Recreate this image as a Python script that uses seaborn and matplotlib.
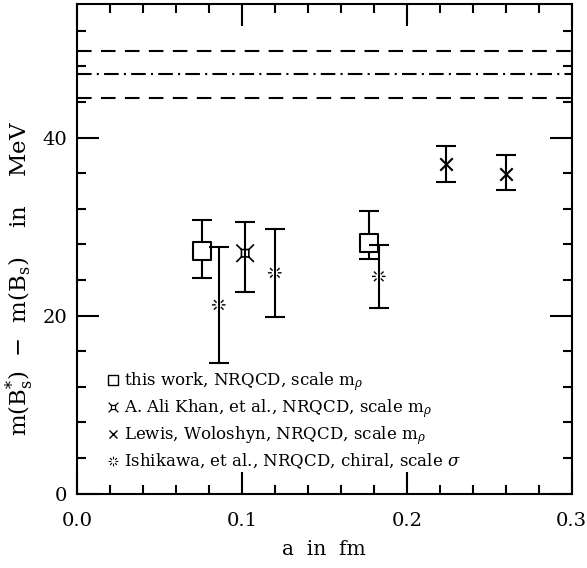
import numpy as np
import matplotlib
matplotlib.use("Agg")
import matplotlib.pyplot as plt
from matplotlib.path import Path
from matplotlib.lines import Line2D
import seaborn as sns

# Lattice spacing a (fm) and hyperfine splitting m(Bs*) - m(Bs) (MeV)
this_a = [0.076, 0.177]
this_val = [27.3, 28.2]
this_lo = [24.2, 26.4]
this_hi = [30.7, 31.8]

khan_a = [0.102]
khan_val = [27.0]
khan_lo = [22.7]
khan_hi = [30.5]

lewis_a = [0.224, 0.260]
lewis_val = [37.0, 35.9]
lewis_lo = [35.0, 34.1]
lewis_hi = [39.0, 38.0]

ishi_a = [0.086, 0.120, 0.183]
ishi_val = [21.2, 24.8, 24.4]
ishi_lo = [14.7, 19.8, 20.9]
ishi_hi = [27.7, 29.7, 27.9]

# experimental value and its band
expt_val = 47.1
expt_err = 2.65

labels = [
    r"this work, NRQCD, scale m$_\rho$",
    r"A. Ali Khan, et al., NRQCD, scale m$_\rho$",
    r"Lewis, Woloshyn, NRQCD, scale m$_\rho$",
    r"Ishikawa, et al., NRQCD, chiral, scale $\sigma$",
]
xticks = [0.0, 0.1, 0.2, 0.3]
xticklabels = ["0.0", "0.1", "0.2", "0.3"]
yticks = [0, 20, 40]
yticklabels = ["0", "20", "40"]

sns.set_style("ticks")
plt.rcParams["font.family"] = ["DejaVu Serif"]
plt.rcParams["mathtext.fontset"] = "dejavuserif"
for key in ("text.color", "axes.labelcolor", "xtick.color", "ytick.color", "axes.edgecolor"):
    plt.rcParams[key] = "black"

# square with diagonal spokes from its corners
k = 0.42
khan_verts = [(-k, -k), (k, -k), (k, k), (-k, k), (-k, -k),
              (k, k), (1, 1), (-k, k), (-1, 1), (-k, -k), (-1, -1), (k, -k), (1, -1)]
khan_codes = [Path.MOVETO, Path.LINETO, Path.LINETO, Path.LINETO, Path.CLOSEPOLY,
              Path.MOVETO, Path.LINETO, Path.MOVETO, Path.LINETO, Path.MOVETO, Path.LINETO,
              Path.MOVETO, Path.LINETO]
khan_marker = Path(khan_verts, khan_codes)

# hollow-centred asterisk
ang = np.deg2rad([0, 45, 90, 135, 180, 225, 270, 315])
iv, ic = [], []
for t in ang:
    iv += [(0.45 * np.cos(t), 0.45 * np.sin(t)), (np.cos(t), np.sin(t))]
    ic += [Path.MOVETO, Path.LINETO]
ishi_marker = Path(iv, ic)

fig, ax = plt.subplots(figsize=(5.87, 5.68), dpi=100)
fig.subplots_adjust(left=0.131, right=0.974, bottom=0.131, top=0.993)

lw = 1.5
cap = 7.5

# experimental band
ax.axhline(expt_val + expt_err, color="black", lw=lw, ls=(0, (7, 4.5)), zorder=1)
ax.axhline(expt_val, color="black", lw=lw, ls=(0, (7, 2.5, 1, 2.5)), zorder=1)
ax.axhline(expt_val - expt_err, color="black", lw=lw, ls=(0, (7, 4.5)), zorder=1)


def bars(a, v, lo, hi, z):
    v = np.asarray(v)
    err = [v - np.asarray(lo), np.asarray(hi) - v]
    ax.errorbar(a, v, yerr=err, fmt="none", ecolor="black", elinewidth=lw,
                capsize=cap, capthick=lw, zorder=z)


bars(this_a, this_val, this_lo, this_hi, 2)
sns.scatterplot(x=this_a, y=this_val, marker="s", s=150, ax=ax, zorder=3,
                color="white", edgecolor="black", linewidth=lw)

bars(khan_a, khan_val, khan_lo, khan_hi, 4)
sns.scatterplot(x=khan_a, y=khan_val, marker=khan_marker, s=160, ax=ax, zorder=5,
                color="black", edgecolor="black", linewidth=1.2)
ax.collections[-1].set_facecolor("none")

bars(lewis_a, lewis_val, lewis_lo, lewis_hi, 4)
sns.scatterplot(x=lewis_a, y=lewis_val, marker="x", s=80, ax=ax, zorder=5,
                color="black", linewidth=lw)

bars(ishi_a, ishi_val, ishi_lo, ishi_hi, 4)
sns.scatterplot(x=ishi_a, y=ishi_val, marker=ishi_marker, s=95, ax=ax, zorder=5,
                color="black", edgecolor="black", linewidth=1.0)
ax.collections[-1].set_facecolor("none")

ax.set_xlim(0, 0.3)
ax.set_ylim(0, 55)
ax.set_xticks(xticks)
ax.set_xticklabels(xticklabels)
ax.set_yticks(yticks)
ax.set_yticklabels(yticklabels)
ax.set_xticks(np.arange(0, 0.3001, 0.02), minor=True)
ax.set_yticks(np.arange(0, 55, 4), minor=True)
ax.tick_params(which="both", direction="in", top=True, right=True, width=lw, color="black")
ax.tick_params(which="major", length=16, labelsize=14)
ax.tick_params(which="minor", length=6.5)
ax.tick_params(axis="x", which="major", pad=13)
ax.tick_params(axis="y", which="major", pad=7)
for sp in ax.spines.values():
    sp.set_linewidth(lw)
    sp.set_color("black")

ax.set_xlabel("a  in  fm", fontsize=14.5)
ax.xaxis.set_label_coords(0.5, -0.094)
ax.set_ylabel(r"m(B$_\mathrm{s}^{*}$)  $-$  m(B$_\mathrm{s}$)    in    MeV",
              fontsize=16.5)
ax.yaxis.set_label_coords(-0.082, 0.44)

handles = [
    Line2D([], [], ls="none", marker="s", ms=6.5, mfc="white", mec="black", mew=1.0),
    Line2D([], [], ls="none", marker=khan_marker, ms=7, mfc="none", mec="black", mew=0.9),
    Line2D([], [], ls="none", marker="x", ms=6, color="black", mew=1.0),
    Line2D([], [], ls="none", marker=ishi_marker, ms=7, mfc="none", mec="black", mew=0.8),
]
ax.legend(handles, labels, loc="lower left", bbox_to_anchor=(0.049, 0.032), frameon=False,
          fontsize=12, handlelength=0.6, handletextpad=0.4, labelspacing=0.25,
          borderaxespad=0)

fig.savefig("out.png", dpi=100)
